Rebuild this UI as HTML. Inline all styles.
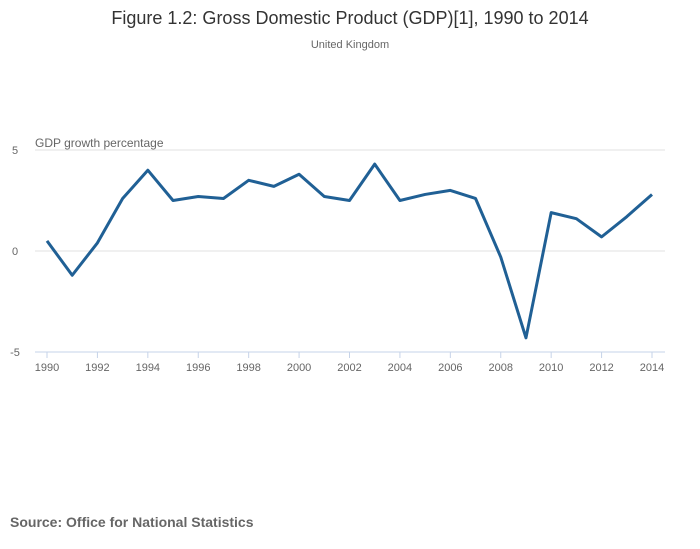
<!DOCTYPE html>
<html><head><meta charset="utf-8"><style>
body{margin:0;background:#fff;font-family:"Liberation Sans",sans-serif;}
svg{display:block}
</style></head><body>
<svg width="700" height="549">
<text x="350" y="24" text-anchor="middle" font-size="18" fill="#333">Figure 1.2: Gross Domestic Product (GDP)[1], 1990 to 2014</text>
<text x="350" y="48" text-anchor="middle" font-size="11" fill="#666">United Kingdom</text>
<text x="35" y="147" font-size="12" fill="#666">GDP growth percentage</text>
<g id="grid"></g><g id="xaxis"></g>
<path id="line" fill="none" stroke="#206095" stroke-width="3" stroke-linejoin="round"></path>
<text x="10" y="527" font-size="14" font-weight="bold" fill="#666">Source: Office for National Statistics</text>
</svg>
<script>
const years=[1990,1991,1992,1993,1994,1995,1996,1997,1998,1999,2000,2001,2002,2003,2004,2005,2006,2007,2008,2009,2010,2011,2012,2013,2014];
const growth=[0.5,-1.2,0.4,2.6,4.0,2.5,2.7,2.6,3.5,3.2,3.8,2.7,2.5,4.3,2.5,2.8,3.0,2.6,-0.3,-4.3,1.9,1.6,0.7,1.7,2.8];
const yTicks=[5,0,-5];
const xTicks=[1990,1992,1994,1996,1998,2000,2002,2004,2006,2008,2010,2012,2014];
const NS="http://www.w3.org/2000/svg";
const x=v=>47+(v-1990)*(605/24);
const y=v=>251-v*20.2;
function mk(t,a,p){const e=document.createElementNS(NS,t);for(const k in a)e.setAttribute(k,a[k]);p.appendChild(e);return e;}
const g=document.getElementById('grid');
yTicks.forEach(v=>{
  const l=mk('line',{x1:35,x2:665,y1:y(v),y2:y(v),stroke:v===-5?'#c6d3e8':'#e0e0e0','stroke-width':1},g);
  
  
  const t=mk('text',{x:15,y:y(v)+4,'text-anchor':'middle','font-size':11,fill:'#666'},g);
  t.textContent=v;
  
  
});
const xa=document.getElementById('xaxis');
xTicks.forEach(v=>{
  const l=mk('line',{x1:x(v),x2:x(v),y1:352,y2:358,stroke:'#c6d3e8'},xa);
  
  
  const t=mk('text',{x:x(v),y:371,'text-anchor':'middle','font-size':11,fill:'#666'},xa);
  t.textContent=v;
  
  
});
document.getElementById('line').setAttribute('d',years.map((yr,i)=>(i?'L':'M')+x(yr)+','+y(growth[i])).join(''));
</script>
</body></html>
